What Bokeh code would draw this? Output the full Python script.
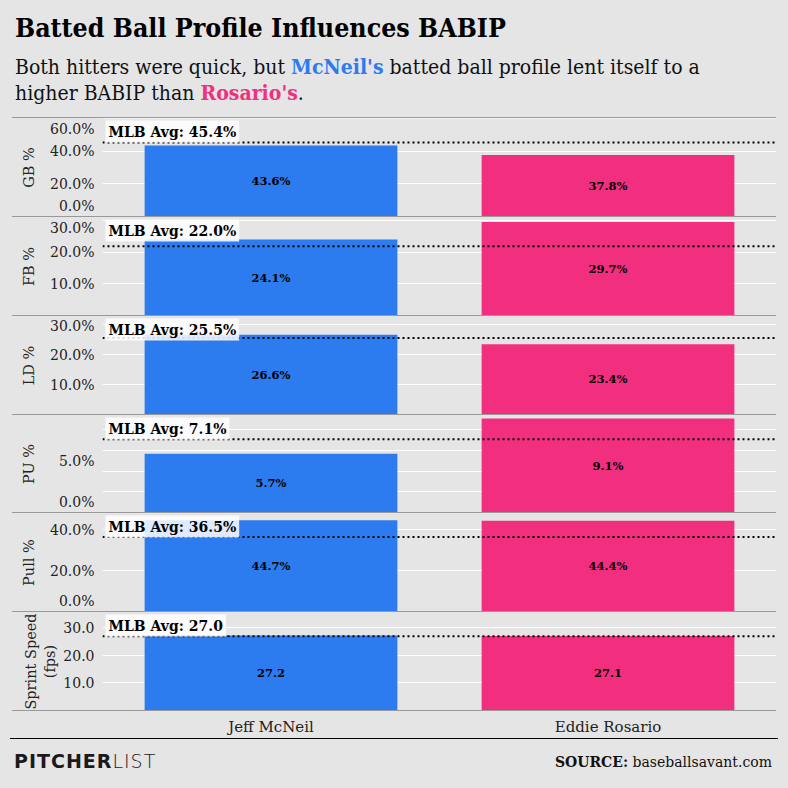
from bokeh.plotting import figure
from bokeh.models import (ColumnDataSource, FactorRange, Range1d, FixedTicker,
                          Span, Label, Div)
from bokeh.layouts import column
from bokeh.core.properties import value
from bokeh.embed import file_html
from bokeh.resources import INLINE

# ---------------- data ----------------
players = ["Jeff McNeil", "Eddie Rosario"]
metrics = ["GB %", "FB %", "LD %", "PU %", "Pull %", "Sprint Speed\n(fps)"]
mcneil = [43.6, 24.1, 26.6, 5.7, 44.7, 27.2]
rosario = [37.8, 29.7, 23.4, 9.1, 44.4, 27.1]
mlb_avg = [45.4, 22.0, 25.5, 7.1, 36.5, 27.0]
is_percent = [True, True, True, True, True, False]
axis_max = [60.2, 31.1, 32.7, 9.4, 48.0, 35.6]
label_ticks = [[0, 20, 40, 60], [10, 20, 30], [10, 20, 30], [0, 5], [0, 20, 40], [10, 20, 30]]
grid_ticks = [[20, 40, 60], [10, 20, 30], [10, 20, 30], [2, 4, 6, 8], [20, 40], [10, 20, 30]]
player_colors = ["#2C7BEF", "#F22F7E"]

# ---------------- style ----------------
BG = "#e5e5e5"
SEP = "#999999"
TXT = "#222222"
SERIF = "DejaVu Serif"
W = 788
panel_h = [98, 98, 98, 97, 98, 98]
title_gap = [10, 10, 10, 19, 10, 2]
AXIS_H = 27
LEFT = 102
RIGHT = 12
FLUSH_PX = 10


def fmt(v, pct):
    return f"{v:.1f}%" if pct else f"{v:.1f}"


def sep():
    return Div(text="", width=764, height=1, margin=(0, 0, 0, 12),
               styles={"background-color": SEP})


def base_fig(ymax, height, bottom):
    return figure(x_range=x_range, y_range=Range1d(0, ymax),
                  width=W, height=height,
                  output_backend="svg", toolbar_location=None, title=None,
                  min_border_left=LEFT, min_border_right=RIGHT, min_border_top=0,
                  min_border_bottom=bottom,
                  background_fill_color=BG, border_fill_color=BG,
                  outline_line_color=None)


HEAD_FONT = "font-family:'DejaVu Serif Condensed','DejaVu Serif';font-stretch:condensed;"
header_html = (
    '<div style="' + HEAD_FONT + 'color:#000;padding:13px 0 0 15px;white-space:nowrap;">'
    '<div style="font-size:26.5px;font-weight:bold;line-height:30px;">Batted Ball Profile Influences BABIP</div>'
    '<div style="font-size:21px;line-height:26px;margin-top:11px;color:#111;">'
    'Both hitters were quick, but <span style="color:#2C7BEF;font-weight:bold;">McNeil\'s</span> '
    'batted ball profile lent itself to a<br>higher BABIP than '
    '<span style="color:#F22F7E;font-weight:bold;">Rosario\'s</span>.</div></div>'
)
header = Div(text=header_html, width=W, height=117, margin=0,
             styles={"background-color": BG})

x_range = FactorRange(factors=players)
children = [header]

for i, metric in enumerate(metrics):
    ymax = axis_max[i]
    h = panel_h[i]
    pct = is_percent[i]
    p = base_fig(ymax, h, 0)

    vals = [mcneil[i], rosario[i]]
    src = ColumnDataSource(dict(
        player=players, val=vals, mid=[v / 2 for v in vals],
        color=player_colors, txt=[fmt(v, pct) for v in vals]))
    p.vbar(x="player", top="val", width=0.75, fill_color="color",
           line_color=None, source=src)
    p.text(x="player", y="mid", text="txt", source=src,
           text_align="center", text_baseline="middle",
           text_font=value(SERIF), text_font_style="bold",
           text_font_size="11.5px", text_color="black")

    # MLB average reference line and label
    p.add_layout(Span(location=mlb_avg[i], dimension="width", line_color="black",
                      line_dash="2 3", line_width=2))
    p.add_layout(Label(x=0, y=ymax, x_offset=3, y_offset=-2,
                       text=f"MLB Avg: {fmt(mlb_avg[i], pct)}",
                       text_align="left", text_baseline="top",
                       text_font=SERIF, text_font_style="bold",
                       text_font_size="14px", text_color="black",
                       background_fill_color="white", background_fill_alpha=0.85,
                       padding=3))

    # grid
    p.xgrid.grid_line_color = None
    p.ygrid.ticker = FixedTicker(ticks=grid_ticks[i])
    p.ygrid.grid_line_color = "white"
    p.ygrid.grid_line_width = 1

    # y axis with labels kept inside the panel (flush)
    pad = FLUSH_PX * ymax / h
    pos, overrides = [], {}
    for t in label_ticks[i]:
        q = round(min(max(t, pad), ymax - pad), 4)
        pos.append(q)
        overrides[q] = fmt(t, pct)
    yax = p.yaxis[0]
    yax.ticker = FixedTicker(ticks=pos)
    yax.major_label_overrides = overrides
    yax.axis_line_color = None
    yax.major_tick_line_color = None
    yax.minor_tick_line_color = None
    yax.major_tick_out = 0
    yax.major_tick_in = 0
    yax.major_label_standoff = 8
    yax.major_label_text_font = SERIF
    yax.major_label_text_font_size = "14px"
    yax.major_label_text_color = TXT
    yax.axis_label = metric
    yax.axis_label_standoff = title_gap[i]
    yax.axis_label_text_font = SERIF
    yax.axis_label_text_font_style = "normal"
    yax.axis_label_text_font_size = "14.5px"
    yax.axis_label_text_color = TXT

    p.xaxis.visible = False

    children.append(sep())
    children.append(p)

children.append(sep())

# category axis strip below the last panel
ax_fig = base_fig(1, AXIS_H, AXIS_H - 1)
ax_fig.xgrid.grid_line_color = None
ax_fig.ygrid.grid_line_color = None
ax_fig.yaxis.visible = False
xax = ax_fig.xaxis[0]
xax.axis_line_color = None
xax.major_tick_line_color = None
xax.minor_tick_line_color = None
xax.major_tick_out = 0
xax.major_tick_in = 0
xax.major_label_standoff = 5
xax.major_label_text_font = SERIF
xax.major_label_text_font_size = "15px"
xax.major_label_text_color = TXT
children.append(ax_fig)

footer_html = (
    '<div style="border-top:1.5px solid #000;margin-left:10px;width:768px;height:47px;'
    'box-sizing:border-box;padding:0 6px 0 4px;display:flex;justify-content:space-between;'
    'align-items:center;">'
    '<span style="font-family:\'DejaVu Sans\';font-size:19px;letter-spacing:1px;color:#1a1a1a;">'
    '<span style="font-weight:bold;">PITCHER</span><span style="font-weight:200;">LIST</span></span>'
    '<span style="font-family:\'DejaVu Serif\';font-size:14px;color:#111;">'
    '<b>SOURCE:</b> baseballsavant.com</span></div>'
)
footer = Div(text=footer_html, width=W, height=50, margin=0,
             styles={"background-color": BG})
children.append(footer)

layout = column(*children, spacing=0, styles={"background-color": BG})

open("out.html", "w").write(file_html(layout, INLINE))
